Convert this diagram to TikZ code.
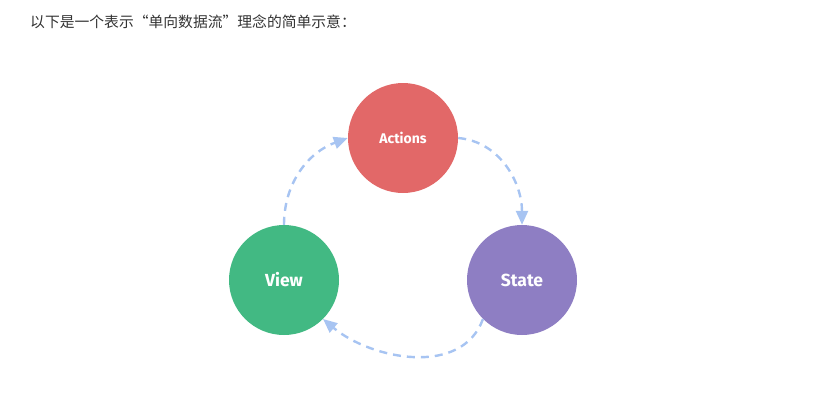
\documentclass[tikz,border=0pt]{standalone}
\usepackage{fontspec}
\setsansfont{Fira Sans}
\newfontfamily\cjk{Noto Sans CJK SC}
\usetikzlibrary{arrows.meta}
\definecolor{actred}{HTML}{E26868}
\definecolor{viewgreen}{HTML}{42B983}
\definecolor{statepurple}{HTML}{8E7EC3}
\definecolor{flowblue}{HTML}{A7C4F2}
\definecolor{textgray}{HTML}{333333}
\tikzset{
  flownode/.style={circle, minimum size=110pt, inner sep=0pt, text=white},
  flowarrow/.style={line width=2.4pt, color=flowblue, dash pattern=on 8pt off 6pt, -{Triangle[length=14pt, width=12pt]}}
}
\begin{document}
\begin{tikzpicture}
[x=1pt, y=-1pt]
\useasboundingbox (0, 0) rectangle (840, 400);
\node (caption) [anchor=west, inner sep=0pt, text=textgray, font=\cjk\fontsize{14.8pt}{16pt}\selectfont] at (30, 22) {以下是一个表示“单向数据流”理念的简单示意：};
\node (actions) [flownode, fill=actred, font=\sffamily\bfseries\fontsize{14pt}{16pt}\selectfont] at (403, 138) {Actions};
\node (view) [flownode, fill=viewgreen, font=\sffamily\bfseries\fontsize{17.5pt}{19pt}\selectfont] at (284, 280) {View};
\node (state) [flownode, fill=statepurple, font=\sffamily\bfseries\fontsize{17.5pt}{19pt}\selectfont] at (522, 280) {State};
\draw [flowarrow] (view.north) to [out=90, in=200] (actions.west);
\draw [flowarrow] (actions.east) to [out=-5, in=90] (state.north);
\draw [flowarrow] (state.-135) to [out=-110, in=-40] (view.-45);
\end{tikzpicture}
\end{document}
